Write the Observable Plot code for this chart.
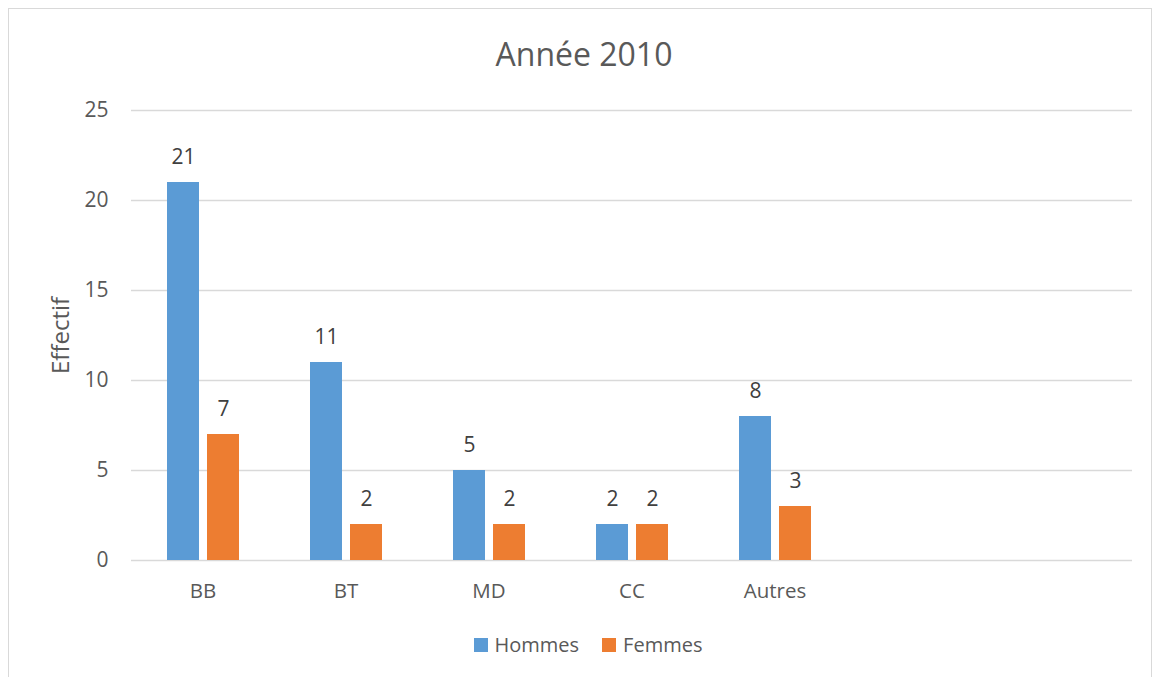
<!DOCTYPE html>
<html lang="fr">
<head>
<meta charset="utf-8">
<script src="https://cdn.jsdelivr.net/npm/d3@7"></script>
<script src="https://cdn.jsdelivr.net/npm/@observablehq/plot@0.6"></script>
<style>
  html, body { margin: 0; padding: 0; background: #fff; overflow: hidden; }
  #wrap { position: relative; width: 1153px; height: 677px; font-family: "Open Sans", sans-serif; color: #595959; }
  #frame { position: absolute; left: 8px; top: 8px; width: 1144px; height: 720px; border: 1px solid #d9d9d9; box-sizing: border-box; }
  #title { position: absolute; left: 8px; width: 1152px; top: 38px; text-align: center; font-size: 32px; line-height: 32px; color: #595959; }
  #chart { position: absolute; left: 0; top: 0; }
  #legend { position: absolute; left: 0; width: 1176px; top: 633px; display: flex; justify-content: center; gap: 23px; font-size: 20px; line-height: 24px; color: #595959; }
  .item { display: flex; align-items: center; gap: 7px; }
  .sw { width: 14px; height: 14px; display: inline-block; }
  #chart svg [aria-label="y-axis label"] text, #chart svg [aria-label="y-axis label"] { font-size: 24px; }
  #chart svg [aria-label="y-axis tick label"] text, #chart svg [aria-label="y-axis tick label"] { font-size: 21px; }
  #chart svg [aria-label="fx-axis tick label"] text, #chart svg [aria-label="fx-axis tick label"] { font-size: 20.5px; }
</style>
</head>
<body>
<div id="wrap">
  <div id="frame"></div>
  <div id="chart"></div>
  <div id="title"></div>
  <div id="legend"></div>
</div>
<script>
const titleText = "Année 2010";
const categories = ["BB", "BT", "MD", "CC", "Autres"];
const emptySlots = ["", " "];
const series = ["Hommes", "Femmes"];
const colors = ["#5B9BD5", "#ED7D31"];
const hommes = [21, 11, 5, 2, 8];
const femmes = [7, 2, 2, 2, 3];
const yTicks = [0, 5, 10, 15, 20, 25];
const yLabel = "Effectif";

const slots = [...categories, ...emptySlots];
const rows = categories.flatMap((c, i) => [
  {cat: c, series: series[0], value: hommes[i]},
  {cat: c, series: series[1], value: femmes[i]}
]);
const gridRows = slots.flatMap(c => yTicks.map(t => ({cat: c, t})));

document.getElementById("title").textContent = titleText;

const chart = Plot.plot({
  width: 1153,
  height: 677,
  marginLeft: 130,
  marginRight: 21,
  marginTop: 110,
  marginBottom: 117,
  style: {fontFamily: "Open Sans, sans-serif", fontSize: "19px", color: "#595959", background: "transparent", overflow: "visible"},
  fx: {domain: slots, padding: 0, label: null, axis: "bottom", tickSize: 0, tickPadding: 23},
  x: {domain: series, paddingInner: 0.2, paddingOuter: 0.8875, axis: null},
  y: {domain: [0, 25], ticks: yTicks, tickSize: 0, tickPadding: 23, label: yLabel, labelAnchor: "center", labelOffset: 80, labelArrow: "none"},
  color: {domain: series, range: colors},
  marks: [
    Plot.ruleY(gridRows, {fx: "cat", y: "t", stroke: "#d9d9d9", strokeWidth: 1.3}),
    Plot.barY(rows, {fx: "cat", x: "series", y: "value", fill: "series"}),
    Plot.text(rows, {fx: "cat", x: "series", y: "value", text: d => String(d.value), dy: -25, fill: "#404040", fontSize: 21})
  ]
});
document.getElementById("chart").appendChild(chart);

const legend = document.getElementById("legend");
series.forEach((s, i) => {
  const item = document.createElement("div");
  item.className = "item";
  const sw = document.createElement("span");
  sw.className = "sw";
  sw.style.background = colors[i];
  const t = document.createElement("span");
  t.textContent = s;
  item.appendChild(sw);
  item.appendChild(t);
  legend.appendChild(item);
});
</script>
</body>
</html>
